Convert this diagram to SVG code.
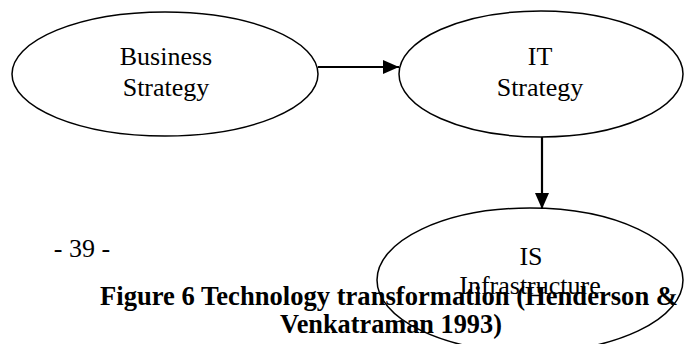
<svg xmlns="http://www.w3.org/2000/svg" width="684" height="344" viewBox="0 0 684 344">
  <style>
    .node ellipse { fill: #ffffff; stroke: #000000; stroke-width: 1.5; }
    .label { font-family: "Liberation Serif", "Times New Roman", serif; font-size: 26px; fill: #000000; text-anchor: middle; }
    .caption { font-family: "Liberation Serif", "Times New Roman", serif; font-size: 26.3px; font-weight: bold; fill: #000000; text-anchor: middle; }
    .edge { stroke: #000000; stroke-width: 2.2; fill: none; }
  </style>
  <defs>
    <marker id="arrow" markerUnits="userSpaceOnUse" markerWidth="16" markerHeight="14" refX="16" refY="7" orient="auto">
      <path d="M0,0 L16,7 L0,14 Z" fill="#000000"/>
    </marker>
  </defs>
  <rect width="684" height="344" fill="#ffffff"/>

  <!-- page number -->
  <text class="label" x="82" y="257">- 39 -</text>

  <g id="business-strategy" class="node">
    <ellipse cx="165" cy="74" rx="153" ry="62"/>
    <text class="label" x="166" y="65">Business</text>
    <text class="label" x="166" y="96">Strategy</text>
  </g>

  <g id="it-strategy" class="node">
    <ellipse cx="541" cy="74" rx="142" ry="63"/>
    <text class="label" x="540" y="65">IT</text>
    <text class="label" x="540" y="96">Strategy</text>
  </g>

  <g id="is-infrastructure" class="node">
    <ellipse cx="530" cy="280" rx="153" ry="72"/>
    <text class="label" x="531" y="265">IS</text>
    <text class="label" x="530" y="294">Infrastructure</text>
  </g>

  <g id="connectors">
    <line class="edge" x1="318" y1="67" x2="399" y2="67" marker-end="url(#arrow)"/>
    <line class="edge" x1="542" y1="137" x2="542" y2="209" marker-end="url(#arrow)"/>
  </g>

  <!-- figure caption, drawn over the lower ellipse -->
  <g id="caption">
    <text class="caption" x="389" y="305" textLength="578" lengthAdjust="spacingAndGlyphs">Figure 6 Technology transformation (Henderson &amp;</text>
    <text class="caption" x="391" y="333">Venkatraman 1993)</text>
  </g>
</svg>
